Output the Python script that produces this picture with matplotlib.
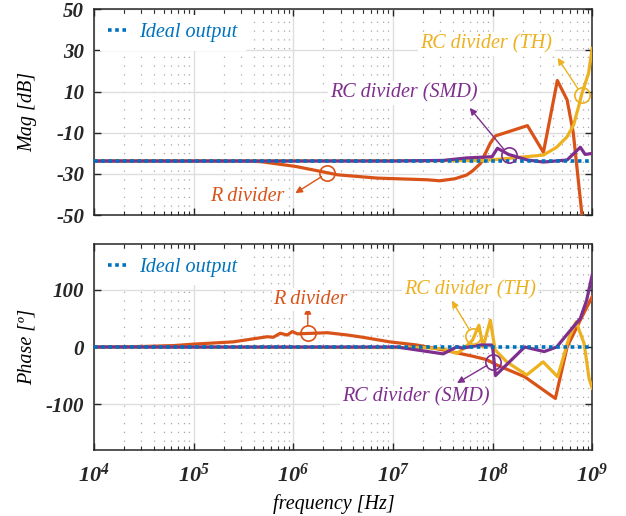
"""
Bode plot (magnitude / phase) of the three dividers against the ideal output
"""
import numpy as np
import matplotlib
matplotlib.use('Agg')
import matplotlib.pyplot as plt
from matplotlib.ticker import LogLocator, FuncFormatter, NullFormatter

# MATLAB default colours
c_ideal = '#0072BD'
c_r = '#D95319'
c_th = '#EDB120'
c_smd = '#7E2F8E'

# ---- magnitude data [dB] ----
freq_ideal = [1e4, 1e9]
mag_ideal = [-23.7, -23.7]
phase_ideal = [0, 0]

freq_mag_r = [1e4, 3e5, 4.7e5, 1.05e6, 2.1e6, 2.8e6, 7e6, 2.2e7, 2.95e7, 4.2e7, 5.5e7,
              6.3e7, 7.6e7, 9.5e7, 1.07e8, 2.24e8, 3.24e8, 4.47e8, 5.6e8, 6.46e8, 7.9e8, 8.3e8]
mag_r = [-23.7, -23.7, -24.0, -26.3, -29.2, -30.4, -32.0, -32.8, -33.3, -32.3, -30.5,
         -28.5, -24.8, -15.0, -11.5, -6.5, -19.5, 15.4, 6.0, -10.0, -50.0, -60.0]

freq_mag_th = [1e4, 8e7, 1.45e8, 3.24e8, 4.4e8, 5.6e8, 6.5e8, 7.3e8, 7.9e8, 9.2e8, 1e9]
mag_th = [-23.7, -23.5, -22.4, -20.8, -17.0, -11.9, -6.2, 2.7, 9.2, 19.0, 31.0]

freq_mag_smd = [1e4, 1e7, 3.2e7, 5.5e7, 9.9e7, 1.12e8, 1.45e8, 2.24e8, 3.24e8, 5.6e8,
                7.6e8, 8.5e8, 1e9]
mag_smd = [-23.7, -23.7, -23.4, -22.2, -21.6, -17.5, -20.5, -23.2, -24.2, -23.2,
           -17.0, -20.5, -20.0]

# ---- phase data [deg] ----
freq_ph_r = [1e4, 3.2e4, 6.3e4, 1e5, 2.5e5, 5.5e5, 6.3e5, 7.4e5, 8.7e5, 9.8e5, 1.1e6,
             2.2e6, 3.5e6, 5e6, 9.3e6, 1.74e7, 2.95e7, 6.3e7, 8.7e7, 1.12e8, 2.1e8,
             4.27e8, 5.6e8, 7.6e8, 1e9]
phase_r = [0, 1, 2.5, 5, 9, 18, 17, 24, 21, 27, 23,
           25, 21, 17, 9, 3.5, -4, -16, -22, -32, -52,
           -90, 0, 47, 88]

freq_ph_th = [1e4, 2e7, 3.2e7, 4.4e7, 5.2e7, 6.3e7, 7.3e7, 8.05e7, 9.5e7, 1.06e8, 1.39e8,
              2.2e8, 3.22e8, 4.5e8, 5.9e8, 6.9e8, 8.3e8, 9.3e8, 1e9]
phase_th = [0, -1, -3, -11, -2, 12, 38, 0, 47, -5, -26,
            -49, -26, -52, 18, 44, 6, -55, -72]

freq_ph_smd = [1e4, 1.1e7, 3.2e7, 4.4e7, 5e7, 7.5e7, 9.8e7, 1.01e8, 1.07e8, 2.1e8,
               3.3e8, 4.4e8, 5.9e8, 7.6e8, 8.8e8, 1e9]
phase_smd = [0, 0, -12, 0.5, -2, 3.5, 3.5, -5, -50, 0,
             -8, 0, 27, 50, 82, 126]

plt.rcParams['font.family'] = 'Liberation Serif'
plt.rcParams['font.style'] = 'italic'
plt.rcParams['font.weight'] = 'bold'
plt.rcParams['mathtext.fontset'] = 'custom'
plt.rcParams['mathtext.rm'] = 'Liberation Serif:italic:bold'
plt.rcParams['mathtext.it'] = 'Liberation Serif:italic:bold'
plt.rcParams['mathtext.bf'] = 'Liberation Serif:italic:bold'
plt.rcParams['axes.unicode_minus'] = False

LW = 2.3
TXT = 14.5


def style_axis(ax):
    ax.set_xscale('log')
    ax.set_xlim(1e4, 1e9)
    ax.xaxis.set_major_locator(LogLocator(base=10, numticks=10))
    ax.xaxis.set_minor_locator(LogLocator(base=10, subs=np.arange(2, 10), numticks=20))
    ax.xaxis.set_minor_formatter(NullFormatter())
    ax.grid(which='major', color='#dedede', lw=1.0, ls='-')
    ax.grid(which='minor', axis='x', color='#a8a8a8', lw=0.9, ls=(0, (1, 6)))
    ax.set_axisbelow(True)
    ax.tick_params(which='both', direction='in', top=True, right=True, colors='#262626')
    ax.tick_params(axis='y', labelsize=15, pad=7)
    ax.tick_params(which='major', length=5, width=1)
    ax.tick_params(which='minor', length=3, width=0.8)
    for s in ax.spines.values():
        s.set_color('#262626')
        s.set_linewidth(1.1)


def mark(ax, circle, head, text_xy, label, color):
    # small open circle on the curve, arrow pointing to the label
    ax.plot([circle[0]], [circle[1]], marker='o', ms=11, mfc='none', mec=color, mew=1.2, zorder=6)
    ax.annotate('', xy=head, xytext=circle,
                arrowprops=dict(arrowstyle='-|>', color=color, lw=1.0,
                                mutation_scale=10, shrinkA=5, shrinkB=0), zorder=6)
    ax.text(text_xy[0], text_xy[1], label, color=color, fontsize=TXT, fontweight='normal',
            ha='center', va='center', zorder=7,
            bbox=dict(facecolor='white', edgecolor='none', pad=1.5))


fig = plt.figure(figsize=(6.26, 5.16), dpi=100)
ax1 = fig.add_axes([0.150, 0.583, 0.796, 0.399])
ax2 = fig.add_axes([0.150, 0.128, 0.796, 0.399])

# Magnitude
ax1.plot(freq_mag_r, mag_r, color=c_r, lw=LW, zorder=3)
ax1.plot(freq_mag_th, mag_th, color=c_th, lw=LW, zorder=3)
ax1.plot(freq_mag_smd, mag_smd, color=c_smd, lw=LW, zorder=3)
ax1.plot(freq_ideal, mag_ideal, color=c_ideal, lw=2.6, ls=(0, (1, 1)), zorder=4, label='Ideal output')
style_axis(ax1)
ax1.set_ylim(-50, 50)
ax1.set_yticks([-50, -30, -10, 10, 30, 50])
ax1.xaxis.set_major_formatter(NullFormatter())
ax1.set_ylabel('Mag [dB]', fontsize=TXT)
ax1.yaxis.set_label_coords(-0.114, 0.5)

mark(ax1, (2.2e6, -29.5), (1.05e6, -39.3), (3.5e5, -40.7), 'R divider', c_r)
mark(ax1, (1.45e8, -20.8), (5.9e7, 2.1), (1.3e7, 9.4), 'RC divider (SMD)', c_smd)
mark(ax1, (7.9e8, 8.4), (4.5e8, 26.4), (8.7e7, 33.2), 'RC divider (TH)', c_th)

# Phase
ax2.plot(freq_ph_r, phase_r, color=c_r, lw=LW, zorder=3)
ax2.plot(freq_ph_th, phase_th, color=c_th, lw=LW, zorder=3)
ax2.plot(freq_ph_smd, phase_smd, color=c_smd, lw=LW, zorder=3)
ax2.plot(freq_ideal, phase_ideal, color=c_ideal, lw=2.6, ls=(0, (1, 1)), zorder=4, label='Ideal output')
style_axis(ax2)
ax2.set_ylim(-180, 180)
ax2.set_yticks([-100, 0, 100])
ax2.xaxis.set_major_formatter(FuncFormatter(lambda v, p: r'$10^{%d}$' % round(np.log10(v))))
ax2.tick_params(axis='x', which='major', labelsize=16, pad=10)
ax2.set_ylabel('Phase [º]', fontsize=TXT)
ax2.yaxis.set_label_coords(-0.114, 0.5)
ax2.set_xlabel('frequency [Hz]', fontsize=TXT)
ax2.xaxis.set_label_coords(0.482, -0.215)

mark(ax2, (1.4e6, 24.6), (1.4e6, 70), (1.5e6, 82.5), 'R divider', c_r)
mark(ax2, (6.4e7, 19), (3.9e7, 81), (6e7, 100), 'RC divider (TH)', c_th)
mark(ax2, (1.01e8, -26), (4.4e7, -63), (1.7e7, -88), 'RC divider (SMD)', c_smd)

for ax in (ax1, ax2):
    leg = ax.legend(loc='upper left', frameon=True, fancybox=False, framealpha=1,
                    facecolor='white', edgecolor='none', handlelength=1.05, handletextpad=0.5,
                    borderaxespad=0.3, labelcolor=c_ideal,
                    prop=dict(family='Liberation Serif', style='italic', weight='normal', size=TXT))

fig.savefig('out.png', dpi=100)
